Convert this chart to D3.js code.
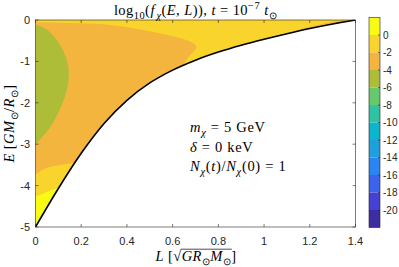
<!DOCTYPE html>
<html><head><meta charset="utf-8">
<script src="https://cdn.jsdelivr.net/npm/d3@7"></script>
<style>body{margin:0;background:#fff}svg{display:block}</style>
</head><body>
<svg id="c" width="399" height="267"></svg>
<script>
// ---------------- data ----------------
const xTicks = [0, 0.2, 0.4, 0.6, 0.8, 1, 1.2, 1.4];
const yTicks = [0, -1, -2, -3, -4, -5];
const cbTicks = [0, -2, -4, -6, -8, -10, -12, -14, -16, -18, -20];
const cbLevels = [2, 0, -2, -4, -6, -8, -10, -12, -14, -16, -18, -20, -22];
const cbColors = ["#3c2ea0", "#4541d6", "#3c63ee", "#2a84f4", "#1fa0de", "#0bb6cc",
                  "#2ec3a2", "#66c96c", "#aebd38", "#f3b53e", "#f8d42c", "#f9fb12"];

// boundary of the allowed region (circular orbits)
const edgeL = [0, 0.1, 0.2, 0.3, 0.4, 0.5, 0.6, 0.7, 0.8, 0.9, 1.0, 1.1, 1.2, 1.3, 1.4];
const edgeE = [-5, -4.07, -3.22, -2.5, -1.94, -1.52, -1.21, -0.97, -0.775, -0.61, -0.465, -0.33, -0.205, -0.095, 0];

// level regions (value of log10 f, L list, E list)
const orangeValue = -3;
const orangeL = [-0.2, 0, 0.15, 0.326, 0.5, 0.632, 0.675, 0.698, 0.704, 0.696, 0.676, 0.656, 0.636, 0.25, 0.18, 0.12, 0.07, 0.03, 0, -0.2];
const orangeE = [-0.055, -0.055, -0.075, -0.121, -0.27, -0.435, -0.52, -0.59, -0.65, -0.73, -0.85, -1.0, -1.2, -3.44, -3.45, -3.49, -3.54, -3.62, -3.72, -3.72];

const oliveValue = -5;
const oliveL = [-0.2, 0, 0.04, 0.085, 0.118, 0.14, 0.146, 0.14, 0.124, 0.098, 0.068, 0.04, 0.015, 0, -0.2];
const oliveE = [-0.12, -0.12, -0.2, -0.42, -0.7, -1.04, -1.32, -1.62, -1.92, -2.26, -2.56, -2.76, -2.92, -3.0, -3.0];

const yellowValue = 1;
const yellowL = [-0.2, 0, 0.03, 0.064, 0.1, 0.16, 0.3, 0.3, -0.2];
const yellowE = [-4.25, -4.25, -4.2, -4.12, -4.05, -4.0, -4.3, -5.4, -5.4];

const sliverValue = -3;
const sliverL = [1.06, 1.1, 1.2, 1.3, 1.37, 1.4, 1.45, 1.3, 1.1];
const sliverE = [-0.4, -0.32, -0.165, -0.04, -0.012, 0, -0.2, -0.4, -0.6];

const baseValue = -1;

// ---------------- layout ----------------
const svg = d3.select("#c");
const x = d3.scaleLinear().domain([0, 1.4]).range([35.5, 355.5]);
const y = d3.scaleLinear().domain([0, -5]).range([20, 227]);
const cb = d3.scaleLinear().domain([2, -22]).range([17.5, 227.5]);
const color = d3.scaleQuantize().domain([-22, 2]).range(cbColors);
const axisCol = "#262626";
const sans = "'Liberation Sans', Arial, sans-serif";
const serif = "'Liberation Serif', 'Times New Roman', serif";

const edge = edgeL.map((l, i) => [l, edgeE[i]]);
const zip = (a, b) => a.map((v, i) => [v, b[i]]);

const defs = svg.append("defs");
defs.append("clipPath").attr("id", "plotclip").append("rect")
  .attr("x", x(0)).attr("y", y(0)).attr("width", x(1.4) - x(0)).attr("height", y(-5) - y(0));
const edgeLine = d3.line().x(d => x(d[0])).y(d => y(d[1])).curve(d3.curveMonotoneX);
const allowedPath = "M" + x(0) + "," + y(0) + "L" + x(1.4) + "," + y(0) +
  edgeLine(edge.slice().reverse()).replace(/^M/, "L") + "Z";
defs.append("clipPath").attr("id", "allowclip").append("path").attr("d", allowedPath);

const g = svg.append("g").attr("clip-path", "url(#plotclip)");
const gf = g.append("g").attr("clip-path", "url(#allowclip)");
gf.append("path").attr("d", allowedPath).attr("fill", color(baseValue));

const blob = d3.line().x(d => x(d[0])).y(d => y(d[1])).curve(d3.curveCatmullRomClosed.alpha(0.5));
[[orangeValue, orangeL, orangeE], [oliveValue, oliveL, oliveE],
 [yellowValue, yellowL, yellowE], [sliverValue, sliverL, sliverE]].forEach(([v, L, E]) => {
  gf.append("path").attr("d", blob(zip(L, E))).attr("fill", color(v));
});

g.append("path").attr("d", edgeLine(edge)).attr("fill", "none")
  .attr("stroke", "#000").attr("stroke-width", 1.6);

// axes box + ticks
const box = svg.append("g");
box.append("rect").attr("x", x(0)).attr("y", y(0)).attr("width", x(1.4) - x(0))
  .attr("height", y(-5) - y(0)).attr("fill", "none").attr("stroke", axisCol).attr("stroke-width", 0.6);
const tl = 3;
xTicks.forEach(t => {
  box.append("line").attr("x1", x(t)).attr("x2", x(t)).attr("y1", y(-5)).attr("y2", y(-5) - tl)
    .attr("stroke", axisCol).attr("stroke-width", 0.6);
  box.append("line").attr("x1", x(t)).attr("x2", x(t)).attr("y1", y(0)).attr("y2", y(0) + tl)
    .attr("stroke", axisCol).attr("stroke-width", 0.6);
  box.append("text").attr("x", x(t)).attr("y", 245).attr("text-anchor", "middle")
    .attr("font-family", sans).attr("font-size", 11).attr("fill", axisCol).text(d3.format("~g")(t));
});
yTicks.forEach(t => {
  box.append("line").attr("x1", x(0)).attr("x2", x(0) + tl).attr("y1", y(t)).attr("y2", y(t))
    .attr("stroke", axisCol).attr("stroke-width", 0.6);
  box.append("line").attr("x1", x(1.4)).attr("x2", x(1.4) - tl).attr("y1", y(t)).attr("y2", y(t))
    .attr("stroke", axisCol).attr("stroke-width", 0.6);
  box.append("text").attr("x", 30).attr("y", y(t) + 4).attr("text-anchor", "end")
    .attr("font-family", sans).attr("font-size", 11).attr("fill", axisCol).text(t === 0 ? "0" : "-" + Math.abs(t));
});

// colorbar
const cbx = 369, cbw = 11;
const cbg = svg.append("g");
for (let i = 0; i < cbLevels.length - 1; i++) {
  const hi = cbLevels[i], lo = cbLevels[i + 1];
  cbg.append("rect").attr("x", cbx).attr("y", cb(hi)).attr("width", cbw)
    .attr("height", cb(lo) - cb(hi)).attr("fill", color((hi + lo) / 2));
}
cbg.append("rect").attr("x", cbx).attr("y", cb(2)).attr("width", cbw).attr("height", cb(-22) - cb(2))
  .attr("fill", "none").attr("stroke", axisCol).attr("stroke-width", 0.6);
cbTicks.forEach(t => {
  cbg.append("line").attr("x1", cbx + cbw).attr("x2", cbx + cbw - 2).attr("y1", cb(t)).attr("y2", cb(t))
    .attr("stroke", axisCol).attr("stroke-width", 0.6);
  cbg.append("text").attr("x", cbx + cbw + 3).attr("y", cb(t) + 3.5)
    .attr("font-family", sans).attr("font-size", 10).attr("fill", axisCol).text(t === 0 ? "0" : "-" + Math.abs(t));
});

// rich text helper: parts = [text, flags, dx] ; flags: i italic, b sub, p sup
function rich(sel, parts, fs) {
  let cur = 0;
  const spans = [];
  parts.forEach(([t, f, dx]) => {
    f = f || "";
    const target = f.includes("b") ? 0.28 * fs : f.includes("p") ? -0.42 * fs : 0;
    const sp = sel.append("tspan").attr("dy", target - cur)
      .attr("font-style", f.includes("i") ? "italic" : "normal")
      .attr("font-size", (f.includes("b") || f.includes("p")) ? 0.72 * fs : fs)
      .text(t);
    if (dx) sp.attr("dx", dx);
    cur = target;
    spans.push(sp);
  });
  return spans;
}

const ls = 0.45;
// title
const title = svg.append("text").attr("x", 195.5).attr("y", 15).attr("text-anchor", "middle")
  .attr("font-family", serif).attr("font-size", 14.5).attr("letter-spacing", ls).attr("fill", "#000");
rich(title, [["log"], ["10", "b"], ["("], ["f", "i"], ["χ", "ib", 1.5], ["("], ["E", "i"], [", "], ["L", "i"], ["))"],
  [", "], ["t", "i"], [" = 10"], ["−7", "p"], [" "], ["t", "i"], ["⊙", "b"]], 14.5);

// y label
const yl = svg.append("text").attr("transform", "translate(14,123.5) rotate(-90)").attr("text-anchor", "middle")
  .attr("font-family", serif).attr("font-size", 14.5).attr("letter-spacing", ls).attr("fill", "#000");
rich(yl, [["E", "i"], [" ["], ["GM", "i"], ["⊙", "b"], ["/"], ["R", "i"], ["⊙", "b"], ["]"]], 14.5);

// x label
const xl = svg.append("text").attr("x", 196).attr("y", 261).attr("text-anchor", "middle")
  .attr("font-family", serif).attr("font-size", 14.5).attr("letter-spacing", ls).attr("fill", "#000");
const xs = rich(xl, [["L", "i"], [" ["], ["√"], ["GR", "i"], ["⊙", "b"], ["M", "i"], ["⊙", "b"], ["]"]], 14.5);
{
  const rad = xs[2].node(), last = xs[6].node();
  const p0 = rad.getEndPositionOfChar(0), p1 = last.getEndPositionOfChar(0);
  const bb = rad.getExtentOfChar(0);
  svg.append("line").attr("x1", p0.x - 0.8).attr("x2", p1.x + 0.5).attr("y1", bb.y + 1.2).attr("y2", bb.y + 1.2)
    .attr("stroke", "#000").attr("stroke-width", 0.7);
}

// annotations
const afs = 14.5;
const ann = svg.append("g").attr("font-family", serif).attr("font-size", afs).attr("letter-spacing", 0.7).attr("fill", "#000");
const a1 = ann.append("text").attr("x", 190).attr("y", 132);
rich(a1, [["m", "i"], ["χ", "ib"], [" = 5 GeV"]], afs);
const a2 = ann.append("text").attr("x", 190).attr("y", 151.5);
rich(a2, [["δ", "i"], [" = 0 keV"]], afs);
const a3 = ann.append("text").attr("x", 190).attr("y", 171);
rich(a3, [["N", "i"], ["χ", "ib"], ["("], ["t", "i"], [")/"], ["N", "i"], ["χ", "ib"], ["(0) = 1"]], afs);
</script>
</body></html>
